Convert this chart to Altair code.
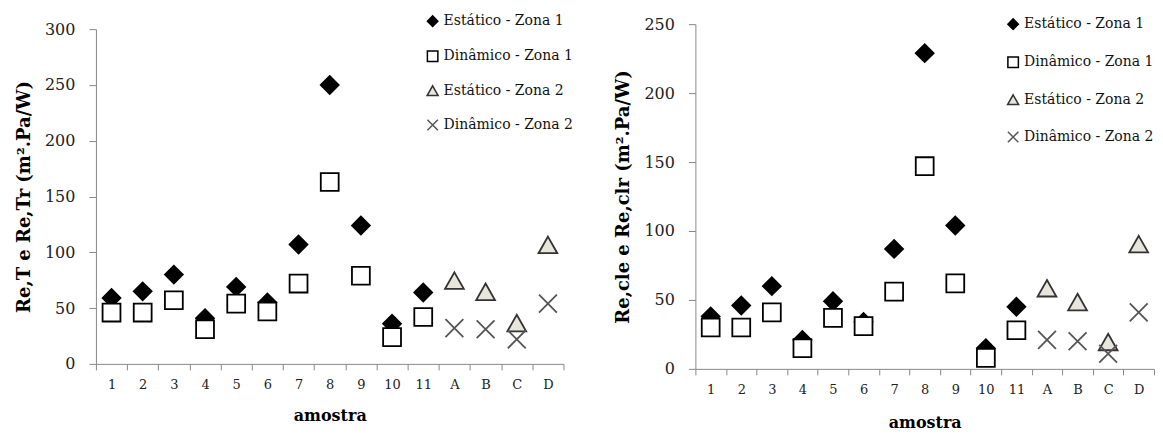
import altair as alt
import pandas as pd

categories = ["1", "2", "3", "4", "5", "6", "7", "8", "9", "10", "11", "A", "B", "C", "D"]
zona1_cats = categories[:11]
zona2_cats = categories[11:]
series_names = ["Estático - Zona 1", "Dinâmico - Zona 1", "Estático - Zona 2", "Dinâmico - Zona 2"]

# Left chart: Re,T e Re,Tr
left_est_z1 = [59, 65, 80, 41, 69, 55, 107, 250, 124, 36, 64]
left_din_z1 = [46, 46, 57, 31, 54, 47, 72, 163, 79, 24, 42]
left_est_z2 = [74, 64, 36, 106]
left_din_z2 = [32, 31, 22, 54]

# Right chart: Re,cle e Re,clr
right_est_z1 = [38, 46, 60, 21, 49, 34, 87, 229, 104, 15, 45]
right_din_z1 = [30, 30, 41, 15, 37, 31, 56, 147, 62, 8, 28]
right_est_z2 = [58, 48, 19, 90]
right_din_z2 = [21, 20, 11, 41]

shape_range = ["diamond", "square", "M0,-1L1.05,0.85L-1.05,0.85Z", "M-1,-1L1,1M-1,1L1,-1"]
fill_range = ["#000000", "#ffffff", "#e6e6dc", "transparent"]
stroke_range = ["#000000", "#000000", "#333333", "#555555"]

FONT = "DejaVu Serif"


def build_df(e1, d1, e2, d2):
    rows = []
    for s, cats, vals in [
        (series_names[0], zona1_cats, e1),
        (series_names[1], zona1_cats, d1),
        (series_names[2], zona2_cats, e2),
        (series_names[3], zona2_cats, d2),
    ]:
        for c, v in zip(cats, vals):
            rows.append({"amostra": c, "valor": v, "serie": s})
    return pd.DataFrame(rows)


def panel(df, ytitle, ymax, width, height, lx, ly, row_pad, xtitle_pad):
    leg = alt.Legend(
        orient="none", legendX=lx, legendY=ly, title=None, padding=0,
        rowPadding=row_pad, labelFont=FONT, labelFontSize=14, labelColor="#111",
        symbolSize=110, labelOffset=4, symbolStrokeWidth=1.5,
    )
    return alt.Chart(df).mark_point(opacity=1, fillOpacity=1, strokeWidth=1.8, size=320).encode(
        x=alt.X(
            "amostra:N", sort=categories,
            scale=alt.Scale(domain=categories, paddingInner=0, paddingOuter=0),
            axis=alt.Axis(
                title="amostra", labelAngle=0, tickBand="extent", labelFont=FONT,
                labelFontSize=13, labelColor="#222", labelPadding=9, tickSize=6,
                titleFont=FONT, titleFontSize=16, titleFontWeight="bold",
                titlePadding=xtitle_pad, domainColor="#888", tickColor="#888",
            ),
        ),
        y=alt.Y(
            "valor:Q",
            scale=alt.Scale(domain=[0, ymax], nice=False),
            axis=alt.Axis(
                title=ytitle, values=list(range(0, ymax + 1, 50)), grid=False,
                labelFont=FONT, labelFontSize=16, labelColor="#222", labelPadding=14,
                tickSize=7, titleFont=FONT, titleFontSize=18, titleFontWeight="bold",
                titlePadding=11, domainColor="#888", tickColor="#888",
            ),
        ),
        shape=alt.Shape("serie:N", scale=alt.Scale(domain=series_names, range=shape_range), legend=leg),
        fill=alt.Fill("serie:N", scale=alt.Scale(domain=series_names, range=fill_range), legend=leg),
        stroke=alt.Stroke("serie:N", scale=alt.Scale(domain=series_names, range=stroke_range), legend=leg),
        order=alt.Order("ord:Q"),
    ).transform_calculate(
        ord="indexof(%s, datum.serie)" % str(series_names)
    ).properties(width=width, height=height)


left = panel(build_df(left_est_z1, left_din_z1, left_est_z2, left_din_z2),
             "Re,T e Re,Tr (m².Pa/W)", 300, 468, 335, 330, -15, 17, 16)
right = panel(build_df(right_est_z1, right_din_z1, right_est_z2, right_din_z2),
              "Re,cle e Re,clr (m².Pa/W)", 250, 459, 345, 311, -7, 20, 18)

chart = alt.hconcat(left, right, spacing=132, bounds="flush", center=True).resolve_scale(
    shape="independent", fill="independent", stroke="independent"
).resolve_legend(
    shape="independent", fill="independent", stroke="independent"
).configure_view(stroke=None).properties(padding={"left": 7, "top": 6, "right": 0, "bottom": 0})

chart.save("out.html", embed_options={"renderer": "svg", "actions": False})
